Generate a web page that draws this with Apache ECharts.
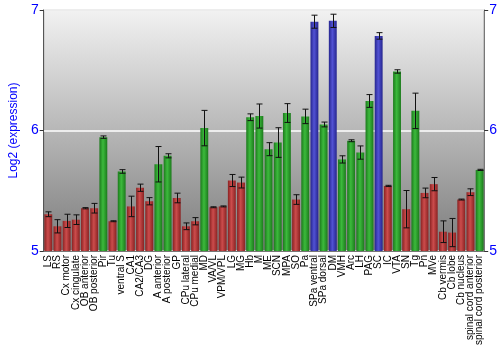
<!DOCTYPE html>
<html><head><meta charset="utf-8">
<script src="https://cdn.jsdelivr.net/npm/echarts@6/dist/echarts.min.js"></script>
<style>html,body{margin:0;padding:0;background:#fff}#c{width:500px;height:350px}</style>
</head><body><div id="c"></div>
<script>
const categories = ['LS','RS','Cx motor','Cx cingulate','OB anterior','OB posterior','Pir','Tu','ventral S','CA1','CA2/CA3','DG','A anterior','A posterior','GP','CPu lateral','CPu medial','MD','VA/VL','VPM/VPL','LG','MG','Hb','M','ME','SCN','MPA','SO','Pa','SPa ventral','SPa dorsal','DM','VMH','Arc','LH','PAG','SC','IC','VTA','SN','Tg','Pn','MVe','Cb vermis','Cb lobe','Cb nucleus','spinal cord anterior','spinal cord posterior'];
const values = [5.305,5.205,5.25,5.26,5.355,5.355,5.945,5.247,5.66,5.37,5.525,5.413,5.72,5.79,5.44,5.205,5.247,6.02,5.363,5.37,5.585,5.568,6.11,6.12,5.845,5.9,6.145,5.427,6.117,6.903,6.05,6.91,5.76,5.915,5.817,6.245,6.785,5.54,6.49,5.347,6.163,5.482,5.555,5.16,5.153,5.427,5.488,5.673];
const errors = [0.02,0.055,0.055,0.04,0.005,0.04,0.01,0.004,0.015,0.085,0.03,0.03,0.147,0.017,0.04,0.028,0.03,0.147,0.004,0.004,0.05,0.045,0.028,0.1,0.054,0.123,0.078,0.04,0.06,0.054,0.02,0.055,0.03,0.008,0.055,0.053,0.027,0.005,0.014,0.155,0.147,0.04,0.055,0.09,0.117,0.004,0.028,0.005];
const groups = ['r','r','r','r','r','r','g','r','g','r','r','r','g','g','r','r','r','g','r','r','r','r','g','g','g','g','g','r','g','b','g','b','g','g','g','g','b','r','g','r','g','r','r','r','r','r','r','g'];
const yTicks = [5,6,7];

function grad(edge, mid) {
  return new echarts.graphic.LinearGradient(0,0,1,0,[
    {offset:0,color:edge},{offset:0.45,color:mid},{offset:1,color:edge}]);
}
const palette = {
  r: grad('#8a2222','#cc4c4c'),
  g: grad('#1c7a1c','#3cba3c'),
  b: grad('#25258e','#5252d4')
};

const chart = echarts.init(document.getElementById('c'), null, {renderer:'canvas'});
const axisFont = {fontFamily:'Liberation Sans, Arial, sans-serif'};
chart.setOption({
  animation:false,
  grid:{left:27,right:13,top:10,bottom:99,show:true,
    backgroundColor:new echarts.graphic.LinearGradient(0,0,0,1,[
      {offset:0,color:'#f2f2f2'},{offset:1,color:'#7c7c7c'}]),
    borderColor:'#777',borderWidth:1},
  xAxis:{type:'category',data:categories,
    axisLine:{show:true,lineStyle:{color:'#777'}},
    axisTick:{show:false},
    axisLabel:{interval:0,rotate:90,fontSize:10,color:'#000',margin:4,...axisFont}},
  yAxis:[
    {type:'value',min:5,max:7,interval:1,position:'left',
     name:'Log2 (expression)',nameLocation:'middle',nameGap:19,
     nameTextStyle:{color:'#0000ff',fontSize:12,...axisFont},
     axisLine:{show:true,lineStyle:{color:'#555'}},
     axisTick:{show:true,length:4,lineStyle:{color:'#333'}},
     axisLabel:{color:'#0000ff',fontSize:14,margin:5,...axisFont,
       formatter:v=>yTicks.includes(v)?String(v):''},
     splitLine:{show:true,lineStyle:{color:'#ffffff',width:1.5}}},
    {type:'value',min:5,max:7,interval:1,position:'right',
     axisLine:{show:true,lineStyle:{color:'#777'}},
     axisTick:{show:true,length:4,lineStyle:{color:'#333'}},
     axisLabel:{color:'#0000ff',fontSize:14,margin:5,...axisFont},
     splitLine:{show:false}}
  ],
  series:[
    {type:'bar',barCategoryGap:'14%',
     data:values.map((v,i)=>({value:v,itemStyle:{color:palette[groups[i]]}}))},
    {type:'custom',
     data:values.map((v,i)=>[i,v-errors[i],v+errors[i]]),
     renderItem:function(params,api){
       const lo=api.coord([api.value(0),api.value(1)]);
       const hi=api.coord([api.value(0),api.value(2)]);
       const x=Math.round(lo[0])+0.5, w=3;
       const st={stroke:'#111',lineWidth:1};
       return {type:'group',children:[
         {type:'line',shape:{x1:x,y1:hi[1],x2:x,y2:lo[1]},style:st},
         {type:'line',shape:{x1:x-w,y1:hi[1],x2:x+w,y2:hi[1]},style:st},
         {type:'line',shape:{x1:x-w,y1:lo[1],x2:x+w,y2:lo[1]},style:st}
       ]};
     },z:5}
  ]
});
</script></body></html>
